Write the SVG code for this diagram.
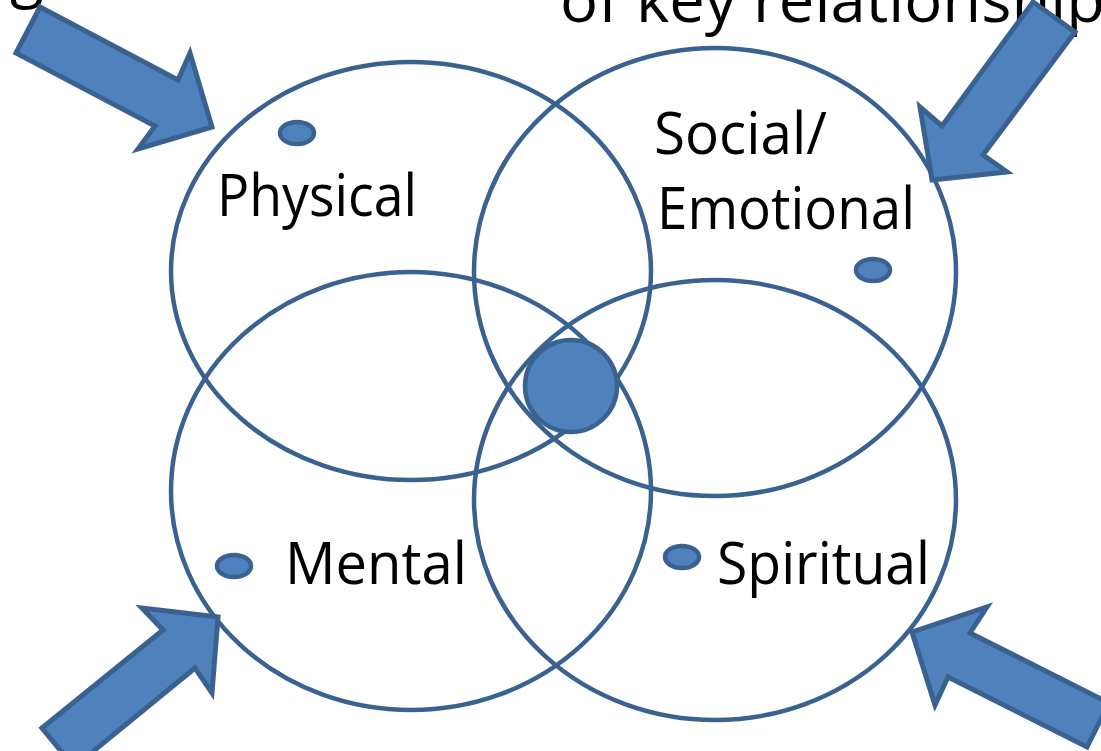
<svg xmlns="http://www.w3.org/2000/svg" width="1101" height="751" viewBox="0 0 1101 751">
<style>
.ring{fill:none;stroke:#3A6291;stroke-width:4.5}
.blob{fill:#4F81BD;stroke:#3A6291;stroke-width:4.5}
.arrow{fill:#4F81BD;stroke:#3A6291;stroke-width:5;stroke-linejoin:miter}
.lbl{font-family:"Open Sans","Noto Sans",sans-serif;font-size:58px;fill:#000}
.title{font-family:"Open Sans","Noto Sans",sans-serif;font-size:62px;fill:#000}
</style>
<rect width="1101" height="751" fill="#fff"/>
<g id="title">
<text class="title" x="10" y="-5">g</text>
<text class="title" x="560" y="22" textLength="545" lengthAdjust="spacingAndGlyphs">of key relationship</text>
</g>
<g id="physical">
<ellipse class="ring" cx="411" cy="271" rx="240" ry="209"/>
<ellipse class="blob" cx="297" cy="133" rx="17" ry="11"/>
<text class="lbl" x="217" y="216" textLength="200" lengthAdjust="spacingAndGlyphs">Physical</text>
</g>
<g id="social">
<ellipse class="ring" cx="715" cy="272" rx="241" ry="224"/>
<ellipse class="blob" cx="873" cy="270" rx="17" ry="11"/>
<text class="lbl" x="654" y="154" textLength="173" lengthAdjust="spacingAndGlyphs">Social/</text>
<text class="lbl" x="657" y="229" textLength="258" lengthAdjust="spacingAndGlyphs">Emotional</text>
</g>
<g id="mental">
<ellipse class="ring" cx="411" cy="491" rx="240" ry="219"/>
<ellipse class="blob" cx="234" cy="566" rx="17" ry="11"/>
<text class="lbl" x="285" y="584" textLength="182" lengthAdjust="spacingAndGlyphs">Mental</text>
</g>
<g id="spiritual">
<ellipse class="ring" cx="715" cy="500" rx="241" ry="220"/>
<ellipse class="blob" cx="682" cy="557" rx="17" ry="11"/>
<text class="lbl" x="717" y="584" textLength="213" lengthAdjust="spacingAndGlyphs">Spiritual</text>
</g>
<g id="center">
<circle class="blob" cx="571" cy="386" r="46"/>
</g>
<g id="connectors">
<polygon class="arrow" points="40,7 178,80 190,53 212,127 138,149 155,126 16,53"/>
<polygon class="arrow" points="1033,2 1075,32 983,155 1007,172 932,180 920,107 942,126"/>
<polygon class="arrow" points="42,728 163,630 142,608 218,617 212,693 195,668 74,767"/>
<polygon class="arrow" points="912,632 987,607 970,633 1109,703 1087,747 948,677 935,705"/>
</g>
</svg>
